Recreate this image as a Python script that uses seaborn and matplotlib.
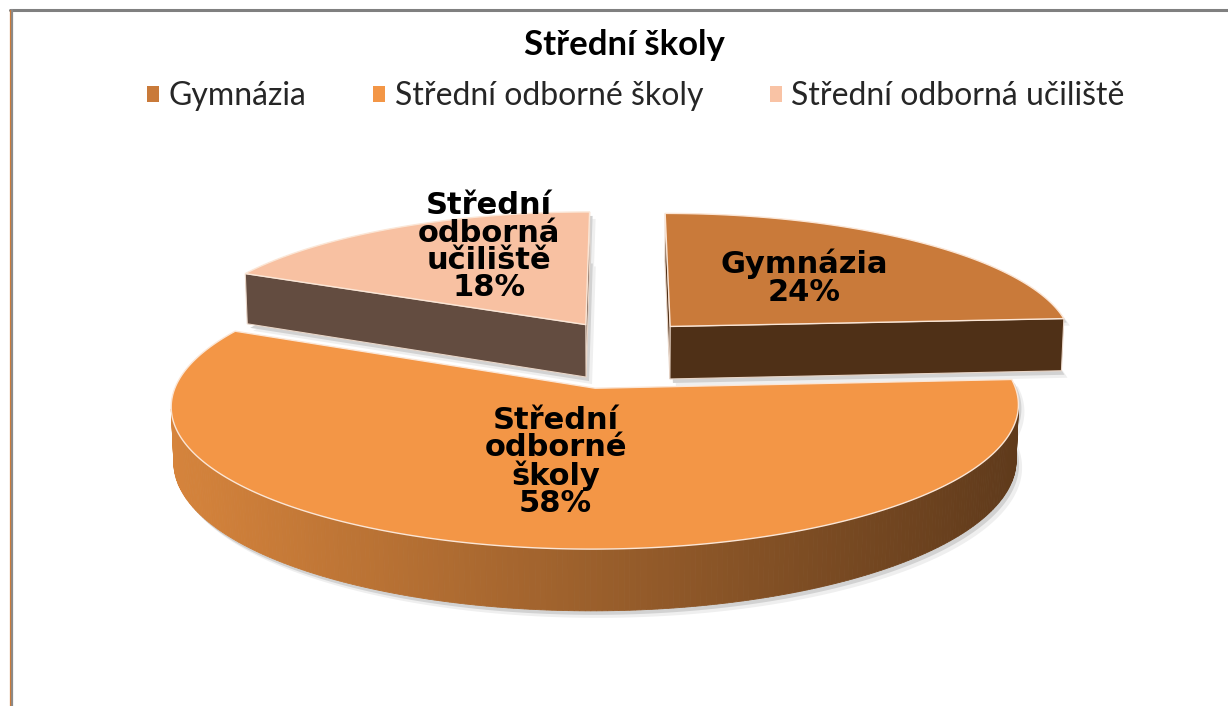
import numpy as np
import matplotlib
matplotlib.use("Agg")
import matplotlib.pyplot as plt
import seaborn as sns
from matplotlib.patches import Patch, Polygon
from matplotlib.colors import to_rgb

# ---------------- data ----------------
title = "Střední školy"
categories = ["Gymnázia", "Střední odborné školy", "Střední odborná učiliště"]
label_names = ["Gymnázia", "Střední\nodborné\nškoly", "Střední\nodborná\nučiliště"]
shares = [24, 58, 18]

# ---------------- style ----------------
top_colors = ["#c97a3a", "#f39646", "#f8c1a2"]
legend_colors = ["#c97a3a", "#f39646", "#f9c3a5"]
face_colors = ["#4f3017", "#6a4222", "#634c40"]
wall_light = ["#a8602a", "#d6843c", "#8a6a5a"]
wall_dark = ["#4f3017", "#5f3a1b", "#634c40"]
explode = [0.177, 0.34, 0.17]
label_frac = [0.52, 0.505, 0.34]
label_rad = [0.54, 0.5, 0.72]

sns.set_theme(style="white")
plt.rcParams["font.family"] = ["DejaVu Sans"]

W, H = 1228, 706
fig = plt.figure(figsize=(W / 100, H / 100), dpi=100)
fig.patch.set_facecolor("white")
ax = fig.add_axes([0, 0, 1, 1])
ax.set_xlim(0, W)
ax.set_ylim(H, 0)
ax.axis("off")

# simple perspective projection of the pie (unit radius)
CX, CY = 622.0, 343.0
F, D = 3230.0, 8.0
ALPHA = np.deg2rad(18.8)
SA, CA = np.sin(ALPHA), np.cos(ALPHA)
THICK = 0.14


def proj(X, Y, Z):
    X = np.asarray(X, float)
    Y = np.asarray(Y, float)
    Z = np.asarray(Z, float)
    v = Y * SA + Z * CA
    w = Y * CA - Z * SA
    den = D + w
    return CX + F * X / den, CY - F * v / den, w


def signed_area(xs, ys):
    return 0.5 * np.sum(xs * np.roll(ys, -1) - np.roll(xs, -1) * ys)


def mix(c1, c2, t):
    a, b = np.array(to_rgb(c1)), np.array(to_rgb(c2))
    return tuple(a + (b - a) * t)


# slice angles: start at 12 o'clock, clockwise (Excel style)
total = float(sum(shares))
cum = np.concatenate([[0], np.cumsum(shares)]) / total * 360.0
slices = []
for i in range(len(shares)):
    a1 = 90.0 - cum[i]
    a0 = 90.0 - cum[i + 1]
    mid = np.deg2rad((a0 + a1) / 2)
    ox, oy = explode[i] * np.cos(mid), explode[i] * np.sin(mid)
    _, _, wdepth = proj(ox, oy, 0)
    slices.append(dict(i=i, a0=a0, a1=a1, ox=ox, oy=oy, w=float(wdepth)))

slices.sort(key=lambda s: -s["w"])

for s in slices:
    i = s["i"]
    ox, oy = s["ox"], s["oy"]
    n = max(int((s["a1"] - s["a0"]) * 1.5), 8)
    ang = np.deg2rad(np.linspace(s["a0"], s["a1"], n))
    ax_ = ox + np.cos(ang)
    ay_ = oy + np.sin(ang)

    # outlines
    tx, ty, _ = proj(np.r_[ox, ax_], np.r_[oy, ay_], 0.0)
    bx, by, _ = proj(np.r_[ox, ax_], np.r_[oy, ay_], -THICK)

    # soft shadow
    for dx, dy, col in [(6, 7, "#efefef"), (3, 4, "#d2d2d2")]:
        ax.add_patch(Polygon(np.c_[bx + dx, by + dy], closed=True, fc=col, ec="none", zorder=1))
        ax.add_patch(Polygon(np.c_[tx + dx, ty + dy], closed=True, fc=col, ec="none", zorder=1))

    walls = []
    for j in range(n - 1):
        X = [ax_[j], ax_[j + 1], ax_[j + 1], ax_[j]]
        Y = [ay_[j], ay_[j + 1], ay_[j + 1], ay_[j]]
        Z = [0, 0, -THICK, -THICK]
        px, py, pw = proj(X, Y, Z)
        if signed_area(px, py) > 0:
            walls.append(["curved", px, py, float(np.mean(pw))])
    ex0, ey0 = ax_[0], ay_[0]
    ex1, ey1 = ax_[-1], ay_[-1]
    px, py, pw = proj([ox, ex0, ex0, ox], [oy, ey0, ey0, oy], [0, 0, -THICK, -THICK])
    if signed_area(px, py) > 0:
        walls.append(["radial", px, py, float(np.mean(pw))])
    px, py, pw = proj([ex1, ox, ox, ex1], [ey1, oy, oy, ey1], [0, 0, -THICK, -THICK])
    if signed_area(px, py) > 0:
        walls.append(["radial", px, py, float(np.mean(pw))])

    curved = [wl for wl in walls if wl[0] == "curved"]
    if curved:
        xmin = min(np.mean(wl[1]) for wl in curved)
        xmax = max(np.mean(wl[1]) for wl in curved)
    walls.sort(key=lambda wl: -wl[3])
    for kind, px, py, _ in walls:
        if kind == "curved":
            t = (np.mean(px) - xmin) / max(xmax - xmin, 1.0)
            col = mix(wall_light[i], wall_dark[i], t)
            ax.add_patch(Polygon(np.c_[px, py], closed=True, fc=col, ec=col, lw=0.6, zorder=2))
        else:
            ax.add_patch(Polygon(np.c_[px, py], closed=True, fc=face_colors[i],
                                 ec="#e9d6c8", lw=0.8, zorder=2))

    # top face
    ax.add_patch(Polygon(np.c_[tx, ty], closed=True, fc=top_colors[i],
                         ec="#fbe6d6", lw=1.0, zorder=3))

    # data label
    la = np.deg2rad(s["a0"] + label_frac[i] * (s["a1"] - s["a0"]))
    lx, ly, _ = proj(ox + label_rad[i] * np.cos(la), oy + label_rad[i] * np.sin(la), 0.0)
    ax.text(float(lx), float(ly), f"{label_names[i]}\n{shares[i]}%", ha="center", va="center",
            fontsize=22, fontweight="bold", color="black", linespacing=0.92,
            family=["DejaVu Sans"], zorder=5)

# title
ax.text(624, 45, title, ha="center", va="center", fontsize=25, fontweight="bold",
        family=["Lato", "DejaVu Sans"], color="black", zorder=6)

# legend
handles = [Patch(facecolor=c, edgecolor="none", label=l) for c, l in zip(legend_colors, categories)]
fig.legend(handles=handles, loc="center", bbox_to_anchor=(636 / W, 1 - 96 / H), ncol=3,
           frameon=False, handlelength=0.36, handleheight=0.4, handletextpad=0.3,
           columnspacing=2.1, prop={"family": ["Lato", "DejaVu Sans"], "size": 23})

# chart frame (top and left edges visible)
ax.plot([10, W], [10, 10], color="#808080", lw=2.2, clip_on=False, zorder=7)
ax.plot([11.5, 11.5], [10, H], color="#8a8a8a", lw=1.6, clip_on=False, zorder=7)
ax.plot([9.8, 9.8], [10, H], color="#c97a3a", lw=0.9, clip_on=False, zorder=7)

fig.savefig("out.png", dpi=100, facecolor="white")
